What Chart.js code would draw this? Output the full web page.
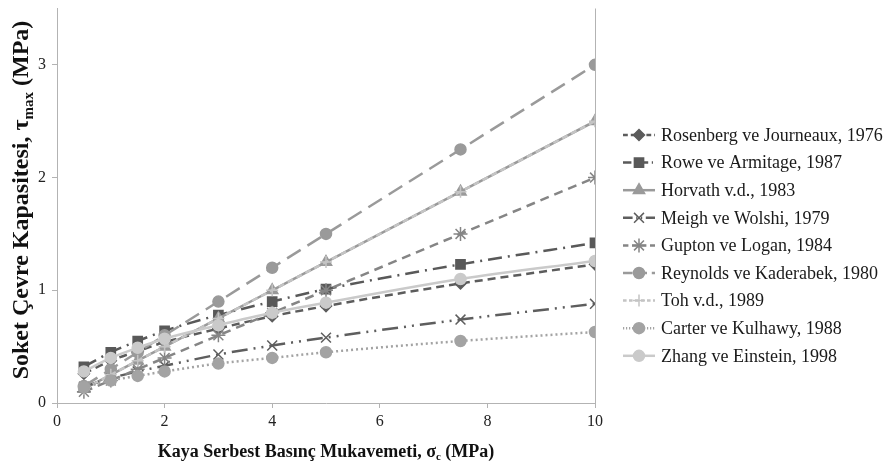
<!DOCTYPE html>
<html>
<head>
<meta charset="utf-8">
<script src="https://cdn.jsdelivr.net/npm/chart.js@4/dist/chart.umd.min.js"></script>
<style>
  html, body { margin: 0; padding: 0; background: #fff; }
  #wrap { width: 887px; height: 468px; }
</style>
</head>
<body>
<div id="wrap"><canvas id="chart" width="887" height="468"></canvas></div>
<script>
// compressive strength of rock (MPa)
const sigmaC = [0.5, 1, 1.5, 2, 3, 4, 5, 7.5, 10];

// side shear capacity (MPa)
const rosenberg = [0.26, 0.375, 0.46, 0.54, 0.66, 0.77, 0.86, 1.06, 1.23];
const rowe      = [0.32, 0.45, 0.55, 0.64, 0.78, 0.90, 1.01, 1.23, 1.42];
const horvath   = [0.125, 0.25, 0.375, 0.5, 0.75, 1.0, 1.25, 1.875, 2.5];
const meigh     = [0.145, 0.22, 0.28, 0.33, 0.43, 0.51, 0.58, 0.74, 0.88];
const gupton    = [0.1, 0.2, 0.3, 0.4, 0.6, 0.8, 1.0, 1.5, 2.0];
const reynolds  = [0.15, 0.3, 0.45, 0.6, 0.9, 1.2, 1.5, 2.25, 3.0];
const toh       = [0.125, 0.25, 0.375, 0.5, 0.75, 1.0, 1.25, 1.875, 2.5];
const carter    = [0.14, 0.20, 0.24, 0.28, 0.35, 0.40, 0.45, 0.55, 0.63];
const zhang     = [0.28, 0.40, 0.49, 0.57, 0.69, 0.80, 0.89, 1.10, 1.26];

const xTicks = [0, 2, 4, 6, 8, 10];
const yTicks = [0, 1, 2, 3];

const seriesNames = [
    'Rosenberg ve Journeaux, 1976',
    'Rowe ve Armitage, 1987',
    'Horvath v.d., 1983',
    'Meigh ve Wolshi, 1979',
    'Gupton ve Logan, 1984',
    'Reynolds ve Kaderabek, 1980',
    'Toh v.d., 1989',
    'Carter ve Kulhawy, 1988',
    'Zhang ve Einstein, 1998'
];
const seriesValues = [rosenberg, rowe, horvath, meigh, gupton, reynolds, toh, carter, zhang];

// look of each series (grayscale, like the original)
const styles = [
    { color: '#5c5c5c', dash: [8, 5],              point: 'rectRot',  radius: 5.5 },
    { color: '#595959', dash: [14, 6, 2, 6],       point: 'rect',     radius: 6.5 },
    { color: '#9a9a9a', dash: [],                  point: 'triangle', radius: 6.5 },
    { color: '#5e5e5e', dash: [16, 6, 2, 6, 2, 6], point: 'crossRot', radius: 7 },
    { color: '#858585', dash: [9, 6],              point: 'star',     radius: 7 },
    { color: '#9a9a9a', dash: [16, 8],             point: 'circle',   radius: 5.5 },
    { color: '#c4c4c4', dash: [6, 4],              point: 'cross',    radius: 6 },
    { color: '#a3a3a3', dash: [2, 3],              point: 'circle',   radius: 5.5 },
    { color: '#cacaca', dash: [],                  point: 'circle',   radius: 5.5 }
];

const datasets = seriesNames.map((name, i) => ({
    label: name,
    data: sigmaC.map((x, j) => ({ x: x, y: seriesValues[i][j] })),
    borderColor: styles[i].color,
    backgroundColor: styles[i].color,
    pointBorderColor: styles[i].color,
    pointBackgroundColor: styles[i].color,
    borderWidth: 2.5,
    borderDash: styles[i].dash,
    pointStyle: styles[i].point,
    pointRadius: styles[i].radius,
    pointBorderWidth: 1.5,
    cubicInterpolationMode: 'monotone',
    fill: false,
    order: seriesNames.length - i   // later series drawn on top, like Excel
}));

const serif = '"Liberation Serif", "Times New Roman", serif';

// text with a subscript in the middle: [before, sub, after]
function drawSubText(ctx, parts, cx, cy, size) {
    const big = 'bold ' + size + 'px ' + serif;
    const small = 'bold ' + Math.round(size * 0.62) + 'px ' + serif;
    ctx.font = big;
    const w0 = ctx.measureText(parts[0]).width;
    const w2 = ctx.measureText(parts[2]).width;
    ctx.font = small;
    const w1 = ctx.measureText(parts[1]).width;
    let x = cx - (w0 + w1 + w2) / 2;
    ctx.textAlign = 'left';
    ctx.textBaseline = 'middle';
    ctx.font = big;
    ctx.fillText(parts[0], x, cy);
    x += w0;
    ctx.font = small;
    ctx.fillText(parts[1], x, cy + size * 0.3);
    x += w1;
    ctx.font = big;
    ctx.fillText(parts[2], x, cy);
}

// axis titles and the line+marker legend
const decorations = {
    id: 'decorations',
    afterDraw(chart) {
        const { ctx, chartArea } = chart;
        ctx.save();
        ctx.fillStyle = '#111';
        drawSubText(ctx, ['Kaya Serbest Basınç Mukavemeti, σ', 'c', ' (MPa)'],
            (chartArea.left + chartArea.right) / 2, 452, 18);
        ctx.save();
        ctx.translate(22, 200);
        ctx.rotate(-Math.PI / 2);
        drawSubText(ctx, ['Soket Çevre Kapasitesi, τ', 'max', ' (MPa)'], 0, 0, 24);
        ctx.restore();

        // legend
        const lx = 623, ly = 135, step = 27.6;
        chart.data.datasets.forEach((ds, i) => {
            const y = ly + i * step;
            ctx.save();
            ctx.strokeStyle = ds.borderColor;
            ctx.fillStyle = ds.pointBackgroundColor;
            ctx.lineWidth = ds.borderWidth;
            ctx.setLineDash(ds.borderDash.map(v => v * 0.6));
            ctx.beginPath();
            ctx.moveTo(lx, y);
            ctx.lineTo(lx + 32, y);
            ctx.stroke();
            ctx.setLineDash([]);
            ctx.lineWidth = ds.pointBorderWidth;
            Chart.helpers.drawPoint(ctx, {
                pointStyle: ds.pointStyle,
                radius: ds.pointRadius,
                borderWidth: ds.pointBorderWidth,
                rotation: 0
            }, lx + 16, y);
            ctx.restore();
            ctx.fillStyle = '#1a1a1a';
            ctx.font = '18px ' + serif;
            ctx.textAlign = 'left';
            ctx.textBaseline = 'middle';
            ctx.fillText(ds.label, lx + 38, y + 1);
        });
        ctx.restore();
    }
};

const axisGray = '#b3b3b3';

const chart = new Chart(document.getElementById('chart'), {
    type: 'line',
    data: { datasets: datasets },
    options: {
        responsive: false,
        animation: false,
        layout: { padding: { top: 7, right: 292, left: 0, bottom: 0 } },
        plugins: {
            legend: { display: false },
            tooltip: { enabled: false }
        },
        scales: {
            x: {
                type: 'linear',
                min: 0,
                max: 10,
                afterBuildTicks: (scale) => { scale.ticks = xTicks.map(v => ({ value: v })); },
                afterFit: (scale) => { scale.height = 65; },
                border: { color: axisGray, width: 1 },
                grid: {
                    color: (c) => (c.tick && c.tick.value === 10 ? axisGray : 'rgba(0,0,0,0)'),
                    tickColor: axisGray,
                    tickLength: 5,
                    lineWidth: 1
                },
                ticks: {
                    color: '#222',
                    padding: 4,
                    maxRotation: 0,
                    font: { family: serif, size: 16 }
                }
            },
            y: {
                min: 0,
                max: 3.5,
                afterBuildTicks: (scale) => { scale.ticks = yTicks.map(v => ({ value: v })); },
                afterFit: (scale) => {
                    scale.width = 57;
                    scale.paddingTop = 0;
                },
                border: { color: axisGray, width: 1 },
                grid: {
                    color: 'rgba(0,0,0,0)',
                    tickColor: axisGray,
                    tickLength: 5
                },
                ticks: {
                    color: '#222',
                    padding: 6,
                    font: { family: serif, size: 16 }
                }
            }
        }
    },
    plugins: [decorations]
});
</script>
</body>
</html>
